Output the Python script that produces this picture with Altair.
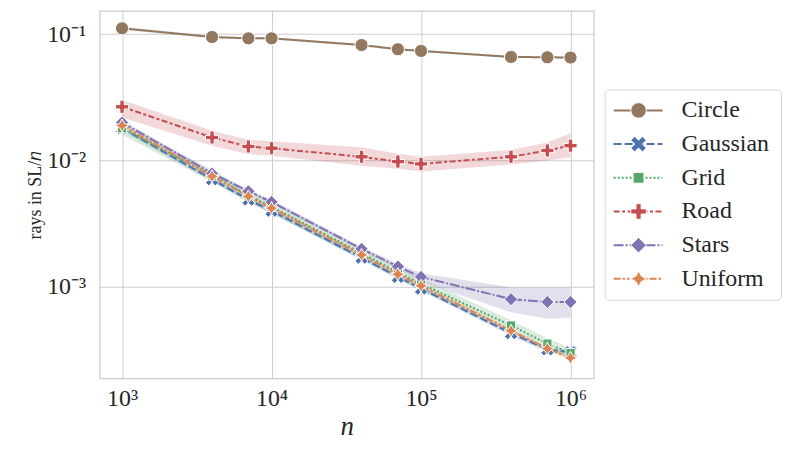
import altair as alt
import pandas as pd

series = ["Circle", "Gaussian", "Grid", "Road", "Stars", "Uniform"]
n_values = [1000, 4000, 7000, 10000, 40000, 70000, 100000, 400000, 700000, 1000000]

circle = [0.111, 0.0947, 0.0925, 0.0925, 0.0819, 0.0758, 0.0735, 0.0659, 0.0655, 0.0652]
circle_lo = [0.108, 0.0925, 0.0905, 0.0905, 0.0802, 0.0743, 0.0721, 0.0647, 0.0643, 0.0641]
circle_hi = [0.114, 0.0970, 0.0945, 0.0945, 0.0836, 0.0773, 0.0749, 0.0671, 0.0667, 0.0664]

gaussian = [0.0180, 0.0071, 0.0049, 0.0040, 0.00170, 0.00120, 0.00097, 0.00043, 0.00032, 0.000305]
gaussian_lo = [0.0172, 0.0068, 0.0047, 0.0038, 0.00163, 0.00115, 0.00093, 0.00041, 0.000305, 0.000290]
gaussian_hi = [0.0188, 0.0074, 0.0051, 0.0042, 0.00177, 0.00125, 0.00101, 0.00045, 0.000335, 0.000320]

grid = [0.0180, 0.0076, 0.0053, 0.0043, 0.00185, 0.00131, 0.00106, 0.000495, 0.000356, 0.000300]
grid_lo = [0.0160, 0.0068, 0.0047, 0.0038, 0.00165, 0.00117, 0.00094, 0.000440, 0.000318, 0.000270]
grid_hi = [0.0198, 0.0084, 0.0058, 0.0047, 0.00203, 0.00144, 0.00117, 0.000545, 0.000392, 0.000330]

road = [0.0266, 0.0152, 0.0129, 0.0125, 0.0107, 0.0098, 0.0094, 0.0107, 0.0120, 0.0131]
road_lo = [0.0219, 0.0131, 0.0112, 0.0109, 0.0091, 0.0086, 0.0082, 0.0093, 0.0100, 0.0106]
road_hi = [0.0301, 0.0172, 0.0146, 0.0142, 0.0127, 0.0113, 0.0107, 0.0121, 0.0139, 0.0164]

stars = [0.0200, 0.0079, 0.0057, 0.0047, 0.00200, 0.00145, 0.00120, 0.00080, 0.00076, 0.00076]
stars_lo = [0.0192, 0.0076, 0.0055, 0.0045, 0.00192, 0.00138, 0.00110, 0.00063, 0.00056, 0.00057]
stars_hi = [0.0208, 0.0082, 0.0059, 0.0049, 0.00208, 0.00153, 0.00128, 0.00099, 0.00099, 0.00099]

uniform = [0.0189, 0.0075, 0.0052, 0.0042, 0.00179, 0.00126, 0.00102, 0.00045, 0.000325, 0.000275]
uniform_lo = [0.0182, 0.0072, 0.0050, 0.0040, 0.00172, 0.00121, 0.00098, 0.000432, 0.000312, 0.000264]
uniform_hi = [0.0196, 0.0078, 0.0054, 0.0044, 0.00186, 0.00131, 0.00106, 0.000468, 0.000338, 0.000286]

x_ticks = [1000, 10000, 100000, 1000000]
x_tick_labels = ["10³", "10⁴", "10⁵", "10⁶"]
y_ticks = [0.1, 0.01, 0.001]
y_tick_labels = ["10⁻¹", "10⁻²", "10⁻³"]

colors = ["#937860", "#4c72b0", "#55a868", "#c44e52", "#8172b3", "#dd8452"]
dashes = [[1, 0], [8, 3], [2, 2], [6, 2.5, 3, 2.5], [10, 2, 2, 2], [7, 2, 2.5, 2, 2.5, 2]]
shapes = [
    "circle",
    "M-0.5,-1L0,-0.5L0.5,-1L1,-0.5L0.5,0L1,0.5L0.5,1L0,0.5L-0.5,1L-1,0.5L-0.5,0L-1,-0.5Z",
    "M-0.7,-0.7L0.7,-0.7L0.7,0.7L-0.7,0.7Z",
    "M-0.33,-1L0.33,-1L0.33,-0.33L1,-0.33L1,0.33L0.33,0.33L0.33,1L-0.33,1L-0.33,0.33L-1,0.33L-1,-0.33L-0.33,-0.33Z",
    "M0,-1L1,0L0,1L-1,0Z",
    "M0,-1L0.354,-0.354L1,0L0.354,0.354L0,1L-0.354,0.354L-1,0L-0.354,-0.354Z",
]

vals = {"Circle": (circle, circle_lo, circle_hi),
        "Gaussian": (gaussian, gaussian_lo, gaussian_hi),
        "Grid": (grid, grid_lo, grid_hi),
        "Road": (road, road_lo, road_hi),
        "Stars": (stars, stars_lo, stars_hi),
        "Uniform": (uniform, uniform_lo, uniform_hi)}

rows = []
for s in series:
    v, lo, hi = vals[s]
    for i, n in enumerate(n_values):
        rows.append({"series": s, "n": n, "value": v[i], "lo": lo[i], "hi": hi[i]})
df = pd.DataFrame(rows)

FONT = "Liberation Serif"
TXT = "#262626"
GRID = "#cccccc"
MSIZE = 175
LSIZE = 245


def label_expr(ticks, labels):
    e = "''"
    for t, l in zip(reversed(ticks), reversed(labels)):
        e = f"abs(datum.value - {t}) < {t}*0.01 ? '{l}' : ({e})"
    return e


color_scale = alt.Scale(domain=series, range=colors)
dash_scale = alt.Scale(domain=series, range=dashes)
shape_scale = alt.Scale(domain=series, range=shapes)

xscale = alt.Scale(type="log", domain=[708, 1430000], nice=False)
yscale = alt.Scale(type="log", domain=[0.000189, 0.1526], nice=False)
xaxis = alt.Axis(values=x_ticks, labelExpr=label_expr(x_ticks, x_tick_labels), grid=True,
                 gridColor=GRID, ticks=False, domain=False, labelFont=FONT, labelFontSize=24,
                 labelColor=TXT, labelPadding=8, titleFont=FONT, titleFontSize=27,
                 titleFontStyle="italic", titleFontWeight="normal", titleColor=TXT, titlePadding=3)
yaxis = alt.Axis(values=y_ticks, labelExpr=label_expr(y_ticks, y_tick_labels), grid=True,
                 gridColor=GRID, ticks=False, domain=False, labelFont=FONT, labelFontSize=24,
                 labelColor=TXT, labelPadding=14, titleFont=FONT, titleFontSize=18,
                 titleFontWeight="normal", titleColor=TXT, titlePadding=2)
ytitle = "rays in SL/𝑛"

base = alt.Chart(df).encode(
    x=alt.X("n:Q", scale=xscale, axis=xaxis, title="n"),
    color=alt.Color("series:N", scale=color_scale, legend=None),
)
band = base.mark_area(opacity=0.22).encode(
    y=alt.Y("lo:Q", scale=yscale, axis=yaxis, title=ytitle), y2="hi:Q",
    detail="series:N")
line = base.mark_line(strokeWidth=2).encode(
    y=alt.Y("value:Q", scale=yscale, axis=yaxis, title=ytitle),
    strokeDash=alt.StrokeDash("series:N", scale=dash_scale, legend=None))
pts = base.mark_point(filled=True, size=MSIZE, stroke="white", strokeWidth=1, opacity=1).encode(
    y=alt.Y("value:Q", scale=yscale, axis=yaxis, title=ytitle),
    shape=alt.Shape("series:N", scale=shape_scale, legend=None))

main = alt.layer(band, line, pts).properties(
    width=496, height=369,
    view=alt.ViewBackground(stroke=GRID, strokeWidth=1.25))

leg_df = pd.DataFrame({"series": series})
lbase = alt.Chart(leg_df).encode(
    y=alt.Y("series:N", scale=alt.Scale(type="point", domain=series, padding=0.62), axis=None))
lrule = lbase.mark_rule(strokeWidth=2).encode(
    x=alt.value(9), x2=alt.value(58),
    color=alt.Color("series:N", scale=color_scale, legend=None),
    strokeDash=alt.StrokeDash("series:N", scale=dash_scale, legend=None))
lpts = lbase.mark_point(filled=True, size=LSIZE, stroke="white", strokeWidth=1, opacity=1).encode(
    x=alt.value(34),
    color=alt.Color("series:N", scale=color_scale, legend=None),
    shape=alt.Shape("series:N", scale=shape_scale, legend=None))
ltext = lbase.mark_text(align="left", baseline="middle", font=FONT, fontSize=24, color=TXT).encode(
    x=alt.value(77), text="series:N")
legend = alt.layer(lrule, lpts, ltext).properties(
    width=177, height=211,
    view=alt.ViewBackground(stroke="#d6d6d6", strokeWidth=1, cornerRadius=4))

chart = alt.hconcat(main, legend, spacing=11, bounds="flush", center=True).resolve_scale(
    color="shared", strokeDash="shared", shape="shared"
).properties(padding={"left": 18, "top": 1, "right": 2, "bottom": 2}).configure(background="white")

chart.save("out.html", embed_options={"renderer": "svg", "actions": False})
